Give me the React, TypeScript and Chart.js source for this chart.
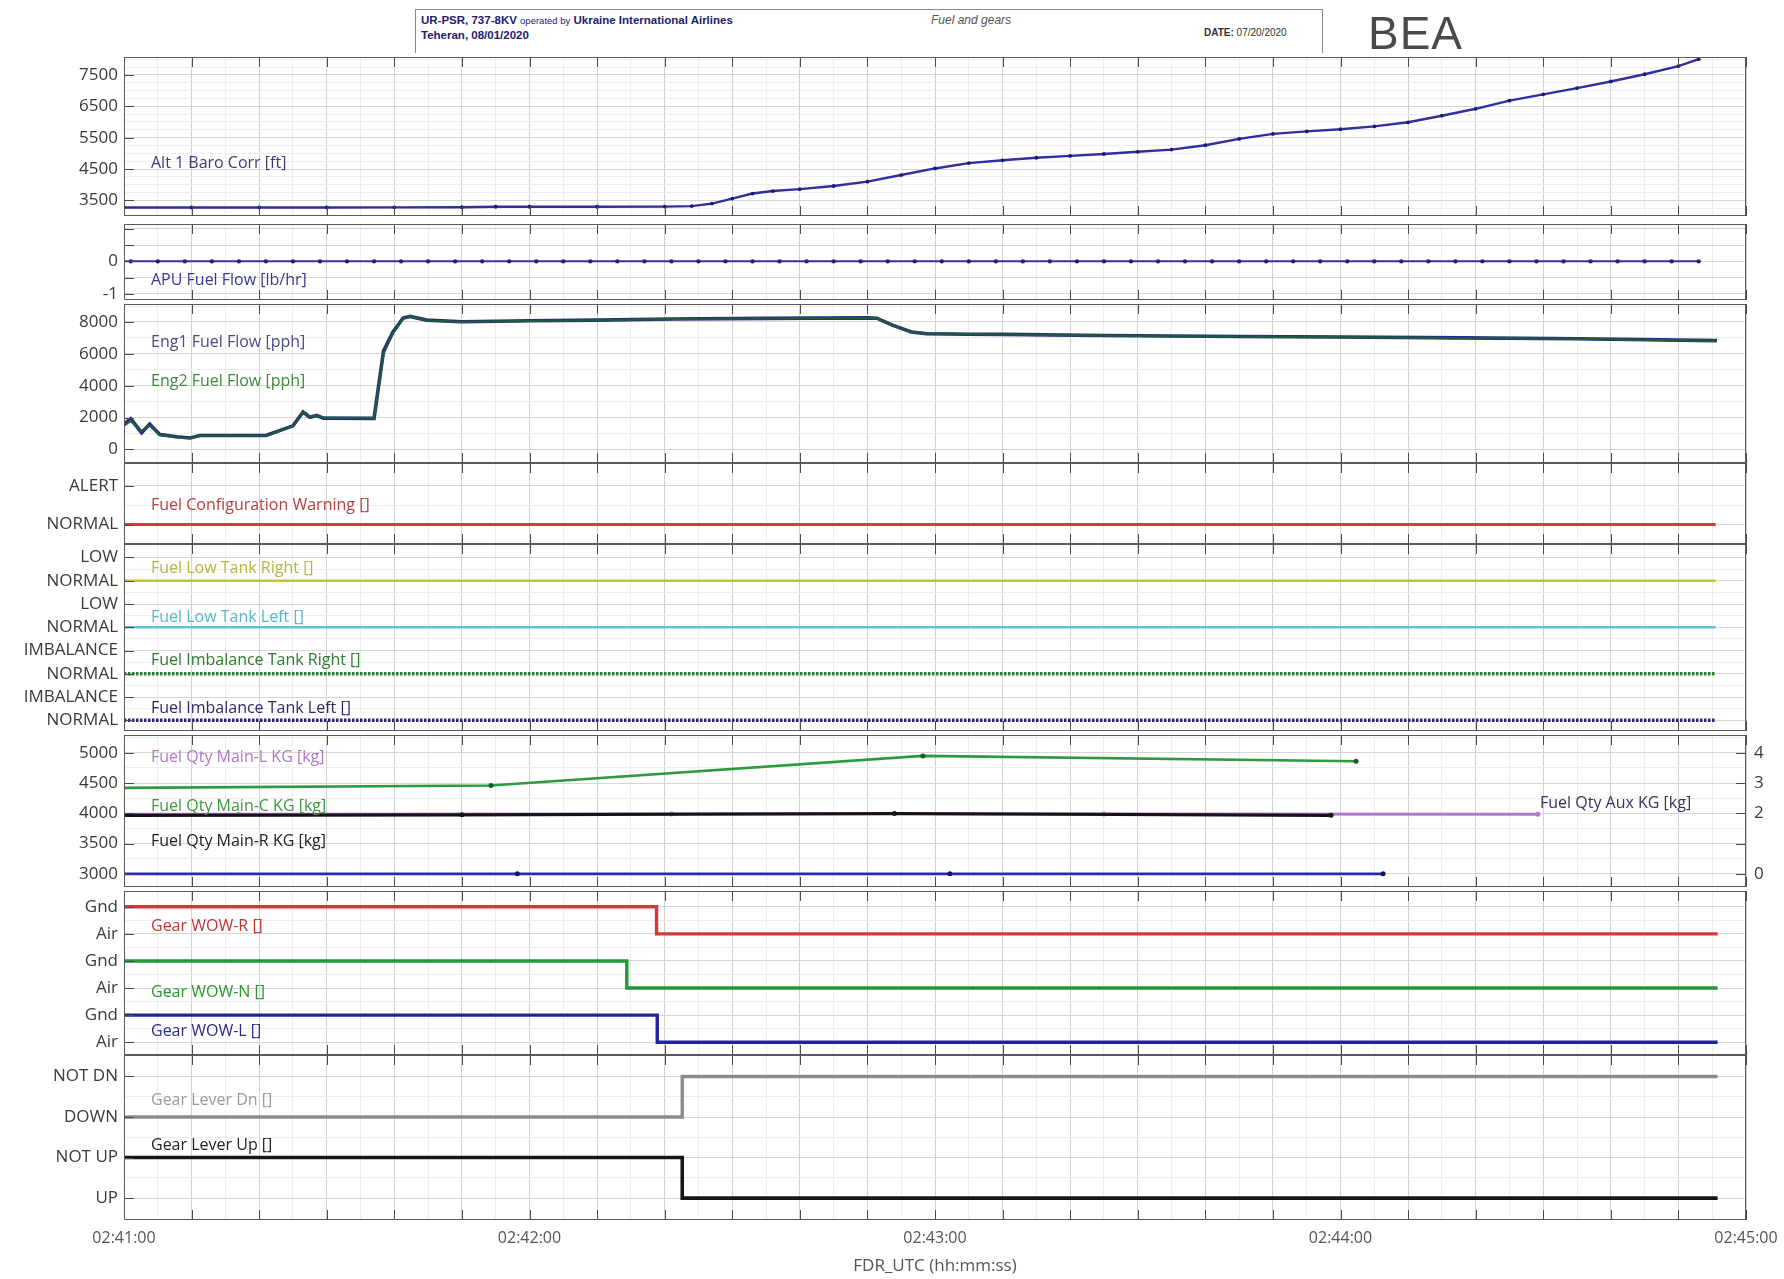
import React, { useEffect, useRef } from "react";
import { Chart, registerables } from "chart.js";

Chart.register(...registerables);

// ---------------- DATA (seconds after 02:41:00) ----------------
const TIME_LABELS = ["02:41:00", "02:42:00", "02:43:00", "02:44:00", "02:45:00"];
const TIME_LABEL_SECONDS = [0, 60, 120, 180, 240];

const ALT_T = [0, 10, 20, 30, 40, 50, 55, 60, 70, 80, 84, 87, 90, 93, 96, 100, 105, 110, 115, 120, 125, 130, 135, 140, 145, 150, 155, 160, 165, 170, 175, 180, 185, 190, 195, 200, 205, 210, 215, 220, 225, 230, 233];
const ALT_FT = [3275, 3275, 3275, 3278, 3280, 3285, 3300, 3300, 3300, 3305, 3320, 3400, 3560, 3720, 3800, 3860, 3960, 4100, 4310, 4520, 4690, 4780, 4860, 4920, 4980, 5050, 5120, 5260, 5460, 5620, 5700, 5770, 5860, 5990, 6200, 6420, 6680, 6880, 7080, 7290, 7520, 7780, 8000];

const APU_T = [-3, 1, 5, 9, 13, 17, 21, 25, 29, 33, 37, 41, 45, 49, 53, 57, 61, 65, 69, 73, 77, 81, 85, 89, 93, 97, 101, 105, 109, 113, 117, 121, 125, 129, 133, 137, 141, 145, 149, 153, 157, 161, 165, 169, 173, 177, 181, 185, 189, 193, 197, 201, 205, 209, 213, 217, 221, 225, 229, 233];
const APU_FLOW = [0, 0, 0, 0, 0, 0, 0, 0, 0, 0, 0, 0, 0, 0, 0, 0, 0, 0, 0, 0, 0, 0, 0, 0, 0, 0, 0, 0, 0, 0, 0, 0, 0, 0, 0, 0, 0, 0, 0, 0, 0, 0, 0, 0, 0, 0, 0, 0, 0, 0, 0, 0, 0, 0, 0, 0, 0, 0, 0, 0];

const ENG_T = [0, 1, 2.6, 3.8, 5.3, 7.8, 9.8, 11.2, 21, 25, 26.5, 27.5, 28.5, 29.5, 37, 38.4, 39.8, 41.3, 42.3, 44.8, 50, 60, 70, 81, 95, 110, 111.4, 113.7, 116.5, 118.8, 125, 130, 145, 165, 180, 198, 215, 235.7];
const ENG1_PPH = [1590, 1920, 1050, 1590, 940, 790, 720, 870, 870, 1480, 2350, 2020, 2130, 1960, 1950, 6180, 7380, 8250, 8350, 8120, 8020, 8080, 8120, 8190, 8230, 8260, 8240, 7800, 7370, 7260, 7230, 7220, 7150, 7090, 7060, 7000, 6950, 6830];
const ENG2_PPH = [1500, 1800, 1150, 1500, 900, 760, 700, 850, 860, 1450, 2300, 2060, 2100, 1990, 1970, 6000, 7300, 8200, 8330, 8100, 8000, 8070, 8110, 8180, 8220, 8250, 8230, 7820, 7390, 7280, 7240, 7210, 7140, 7080, 7050, 6990, 6940, 6820];

const DISCRETE_T = [0, 235.5];
const FUEL_CONFIG_STATE = ["NORMAL", "NORMAL"];
const LOW_TANK_R_STATE = ["NORMAL", "NORMAL"];
const LOW_TANK_L_STATE = ["NORMAL", "NORMAL"];
const IMBAL_R_STATE = ["NORMAL", "NORMAL"];
const IMBAL_L_STATE = ["NORMAL", "NORMAL"];

const QTY_C_T = [-9.7, 54.3, 118.2, 182.3];
const QTY_C_KG = [4415, 4460, 4950, 4860];
const QTY_R_T = [-14, 50, 114, 178.6];
const QTY_R_KG = [3965, 3976, 3998, 3967];
const QTY_L_T = [-47, 17, 81, 145, 209.2];
const QTY_L_KG = [3980, 3985, 3990, 3990, 3985];
const QTY_AUX_T = [-5.8, 58.2, 122.2, 186.3];
const QTY_AUX_KG = [0, 0, 0, 0];

const WOW_R_T = [0, 78.8, 235.8];
const WOW_R_STATE = ["Gnd", "Air", "Air"];
const WOW_N_T = [0, 74.4, 235.8];
const WOW_N_STATE = ["Gnd", "Air", "Air"];
const WOW_L_T = [0, 78.9, 235.8];
const WOW_L_STATE = ["Gnd", "Air", "Air"];

const LEVER_DN_T = [0, 82.6, 235.8];
const LEVER_DN_STATE = ["DOWN", "NOT DN", "NOT DN"];
const LEVER_UP_T = [0, 82.6, 235.8];
const LEVER_UP_STATE = ["NOT UP", "UP", "UP"];

// ---------------- LAYOUT / STYLE ----------------
const W = 1784;
const PLOT_L = 124;
const PLOT_R = 1746;
const AXIS_H = 59;
const FONT = "'Open Sans', sans-serif";

const pts = (T: number[], V: number[]) => T.map((t, i) => ({ x: t, y: V[i] }));
const ptsMap = (T: number[], S: string[], map: Record<string, number>) =>
  T.map((t, i) => ({ x: t, y: map[S[i]] }));

const ln = (data: any[], color: string, extra: any = {}) => ({
  data,
  borderColor: color,
  backgroundColor: color,
  borderWidth: 2,
  pointRadius: 0,
  pointBorderWidth: 0,
  tension: 0,
  fill: false,
  ...extra,
});

const range = (a: number, b: number, s: number) => {
  const r: number[] = [];
  for (let v = a; v <= b + 1e-9; v += s) r.push(Math.round(v * 1000) / 1000);
  return r;
};

type Spec = {
  top: number;
  bottom: number;
  min: number;
  max: number;
  grid: number[];
  labels: [number, string][];
  datasets: any[];
  right?: { min: number; max: number; labels: [number, string][]; marks: number[] };
  xAxis?: boolean;
};

const PANELS: Spec[] = [
  {
    top: 53, bottom: 220, min: 3005, max: 8070,
    grid: range(3250, 8000, 250),
    labels: [[3500, "3500"], [4500, "4500"], [5500, "5500"], [6500, "6500"], [7500, "7500"]],
    datasets: [ln(pts(ALT_T, ALT_FT), "#2f2f9e", { borderWidth: 2.4, pointRadius: 1.9, pointBackgroundColor: "#1b1b6e" })],
  },
  {
    top: 220, bottom: 304, min: -1.19, max: 1.15,
    grid: [-1, -0.5, 0, 0.5, 1],
    labels: [[-1, "-1"], [-0.5, ""], [0, "0"], [0.5, ""], [1, ""]],
    datasets: [ln(pts(APU_T, APU_FLOW), "#34349c", { borderWidth: 2, pointRadius: 2.2, pointBackgroundColor: "#222275" })],
  },
  {
    top: 304, bottom: 463, min: -854, max: 9130,
    grid: range(0, 9000, 1000),
    labels: [[0, "0"], [2000, "2000"], [4000, "4000"], [6000, "6000"], [8000, "8000"]],
    datasets: [
      ln(pts(ENG_T, ENG2_PPH), "#1f5a40", { borderWidth: 2.2 }),
      ln(pts(ENG_T, ENG1_PPH), "#2a2a7e", { borderWidth: 3.6 }),
    ],
  },
  {
    top: 463, bottom: 544, min: -0.5, max: 1.59,
    grid: [0, 0.5, 1],
    labels: [[0, "NORMAL"], [1, "ALERT"]],
    datasets: [ln(ptsMap(DISCRETE_T, FUEL_CONFIG_STATE, { NORMAL: 0, ALERT: 1 }), "#d23c3c", { borderWidth: 3 })],
  },
  {
    top: 544, bottom: 731, min: -0.46, max: 7.58,
    grid: range(0, 7, 0.5),
    labels: [[0, "NORMAL"], [1, "IMBALANCE"], [2, "NORMAL"], [3, "IMBALANCE"], [4, "NORMAL"], [5, "LOW"], [6, "NORMAL"], [7, "LOW"]],
    datasets: [
      ln(ptsMap(DISCRETE_T, LOW_TANK_R_STATE, { NORMAL: 6, LOW: 7 }), "#c4c43a", { borderWidth: 2.6 }),
      ln(ptsMap(DISCRETE_T, LOW_TANK_L_STATE, { NORMAL: 4, LOW: 5 }), "#5cc6d8", { borderWidth: 2.6 }),
      ln(ptsMap(DISCRETE_T, IMBAL_R_STATE, { NORMAL: 2, IMBALANCE: 3 }), "#2c7e34", { borderWidth: 3.5, borderDash: [2.5, 1.5] }),
      ln(ptsMap(DISCRETE_T, IMBAL_L_STATE, { NORMAL: 0, IMBALANCE: 1 }), "#26266e", { borderWidth: 3.5, borderDash: [2.5, 1.5] }),
    ],
  },
  {
    top: 731, bottom: 891, min: 2783, max: 5295,
    grid: range(3000, 5250, 250),
    labels: [[3000, "3000"], [3500, "3500"], [4000, "4000"], [4500, "4500"], [5000, "5000"]],
    right: { min: -0.434, max: 4.59, labels: [[0, "0"], [1, ""], [2, "2"], [3, "3"], [4, "4"]], marks: [0, 1, 2, 3, 4] },
    datasets: [
      ln(pts(QTY_C_T, QTY_C_KG), "#2f9a3c", { borderWidth: 2.6, pointRadius: 2.5, pointBackgroundColor: "#1c5a24" }),
      ln(pts(QTY_R_T, QTY_R_KG), "#151515", { borderWidth: 3.2, pointRadius: 2.5 }),
      ln(pts(QTY_L_T, QTY_L_KG), "#b277cf", { borderWidth: 3, pointRadius: 2.5 }),
      ln(pts(QTY_AUX_T, QTY_AUX_KG), "#2a2ab0", { borderWidth: 2.6, pointRadius: 2.5, pointBackgroundColor: "#161660", yAxisID: "y2" }),
    ],
  },
  {
    top: 891, bottom: 1055, min: -0.47, max: 5.58,
    grid: range(0, 5, 0.5),
    labels: [[0, "Air"], [1, "Gnd"], [2, "Air"], [3, "Gnd"], [4, "Air"], [5, "Gnd"]],
    datasets: [
      ln(ptsMap(WOW_R_T, WOW_R_STATE, { Gnd: 5, Air: 4 }), "#d03a3a", { borderWidth: 3.4, stepped: "before" }),
      ln(ptsMap(WOW_N_T, WOW_N_STATE, { Gnd: 3, Air: 2 }), "#23973a", { borderWidth: 3.4, stepped: "before" }),
      ln(ptsMap(WOW_L_T, WOW_L_STATE, { Gnd: 1, Air: 0 }), "#22229e", { borderWidth: 3.4, stepped: "before" }),
    ],
  },
  {
    top: 1055, bottom: 1220, min: -0.54, max: 3.53,
    grid: range(0, 3, 0.5),
    labels: [[0, "UP"], [1, "NOT UP"], [2, "DOWN"], [3, "NOT DN"]],
    xAxis: true,
    datasets: [
      ln(ptsMap(LEVER_UP_T, LEVER_UP_STATE, { UP: 0, "NOT UP": 1 }), "#161616", { borderWidth: 3.6, stepped: "before" }),
      ln(ptsMap(LEVER_DN_T, LEVER_DN_STATE, { DOWN: 2, "NOT DN": 3 }), "#8c8c8c", { borderWidth: 3.4, stepped: "before" }),
    ],
  },
];

const PANEL_LABELS: { text: string; x: number; y: number; color: string }[] = [
  { text: "Alt 1 Baro Corr [ft]", x: 151, y: 162, color: "#3b3b7c" },
  { text: "APU Fuel Flow [lb/hr]", x: 151, y: 279, color: "#3a3a8c" },
  { text: "Eng1 Fuel Flow [pph]", x: 151, y: 341, color: "#4a4a86" },
  { text: "Eng2 Fuel Flow [pph]", x: 151, y: 380, color: "#3c8a3c" },
  { text: "Fuel Configuration Warning []", x: 151, y: 504, color: "#b44040" },
  { text: "Fuel Low Tank Right []", x: 151, y: 567, color: "#b6b640" },
  { text: "Fuel Low Tank Left []", x: 151, y: 616, color: "#58b6cc" },
  { text: "Fuel Imbalance Tank Right []", x: 151, y: 659, color: "#2c7a2c" },
  { text: "Fuel Imbalance Tank Left []", x: 151, y: 707, color: "#2a2a6a" },
  { text: "Fuel Qty Main-L KG [kg]", x: 151, y: 756, color: "#b276c8" },
  { text: "Fuel Qty Main-C KG [kg]", x: 151, y: 805, color: "#3c983c" },
  { text: "Fuel Qty Main-R KG [kg]", x: 151, y: 840, color: "#222222" },
  { text: "Fuel Qty Aux KG [kg]", x: 1540, y: 802, color: "#34345e" },
  { text: "Gear WOW-R []", x: 151, y: 925, color: "#c03434" },
  { text: "Gear WOW-N []", x: 151, y: 991, color: "#2c962c" },
  { text: "Gear WOW-L []", x: 151, y: 1030, color: "#2a2a8a" },
  { text: "Gear Lever Dn []", x: 151, y: 1099, color: "#9a9a9a" },
  { text: "Gear Lever Up []", x: 151, y: 1144, color: "#222222" },
];

const X_GRID = range(0, 240, 5);
const X_MARKS = range(0, 240, 10);

const framePlugin = {
  id: "frame",
  afterDraw(chart: any) {
    const { ctx, chartArea: a, scales } = chart;
    const spec: Spec = chart.options.plugins.frame.spec;
    ctx.save();
    ctx.strokeStyle = "#4a4a4a";
    ctx.lineWidth = 1;
    ctx.beginPath();
    for (const v of X_MARKS) {
      const px = Math.round(scales.x.getPixelForValue(v)) + 0.5;
      ctx.moveTo(px, a.top);
      ctx.lineTo(px, a.top + 10);
      ctx.moveTo(px, a.bottom);
      ctx.lineTo(px, a.bottom - 10);
    }
    for (const [v] of spec.labels) {
      const py = Math.round(scales.y.getPixelForValue(v)) + 0.5;
      ctx.moveTo(a.left, py);
      ctx.lineTo(a.left + 10, py);
    }
    if (spec.right && scales.y2) {
      for (const v of spec.right.marks) {
        const py = Math.round(scales.y2.getPixelForValue(v)) + 0.5;
        ctx.moveTo(a.right, py);
        ctx.lineTo(a.right - 10, py);
      }
    }
    ctx.stroke();
    ctx.lineWidth = 1;
    ctx.strokeStyle = "#5a5a5a";
    ctx.strokeRect(a.left + 0.5, a.top + 0.5, a.right - a.left - 1, a.bottom - a.top - 1);
    ctx.restore();
  },
};

function buildConfig(spec: Spec): any {
  const labelMap = new Map<number, string>(spec.labels);
  const tickFont = { family: FONT, size: 17 };
  const scales: any = {
    x: {
      type: "linear",
      min: 0,
      max: 240,
      afterBuildTicks: (s: any) => {
        s.ticks = X_GRID.map((v) => ({ value: v }));
      },
      afterFit: (s: any) => {
        s.height = spec.xAxis ? AXIS_H : 0;
        s.paddingLeft = 0;
        s.paddingRight = 0;
      },
      ticks: {
        display: !!spec.xAxis,
        autoSkip: false,
        maxRotation: 0,
        padding: 9,
        color: "#555",
        font: { family: FONT, size: 16 },
        callback: (v: number) => {
          const i = TIME_LABEL_SECONDS.indexOf(v);
          return i >= 0 ? TIME_LABELS[i] : "";
        },
      },
      title: {
        display: !!spec.xAxis,
        text: "FDR_UTC (hh:mm:ss)",
        color: "#555",
        font: { family: FONT, size: 17 },
        padding: { top: 0, bottom: 3 },
      },
      grid: {
        drawTicks: false,
        color: (c: any) => (c.tick && c.tick.value % 10 === 0 ? "#d2d2d2" : "#eeeeee"),
        lineWidth: 1,
      },
      border: { display: false },
    },
    y: {
      type: "linear",
      position: "left",
      min: spec.min,
      max: spec.max,
      afterBuildTicks: (s: any) => {
        s.ticks = spec.grid.map((v) => ({ value: v }));
      },
      afterFit: (s: any) => {
        s.width = PLOT_L;
        s.paddingTop = 0;
        s.paddingBottom = 0;
      },
      ticks: {
        autoSkip: false,
        padding: 6,
        color: "#3a3a3a",
        font: tickFont,
        callback: (v: number) => labelMap.get(v) ?? "",
      },
      grid: {
        drawTicks: false,
        color: (c: any) => (c.tick && labelMap.has(c.tick.value) ? "#d6d6d6" : "#ededed"),
      },
      border: { display: false },
    },
  };
  if (spec.right) {
    const r = spec.right;
    const rMap = new Map<number, string>(r.labels);
    scales.y2 = {
      type: "linear",
      position: "right",
      min: r.min,
      max: r.max,
      afterBuildTicks: (s: any) => {
        s.ticks = r.marks.map((v) => ({ value: v }));
      },
      afterFit: (s: any) => {
        s.width = W - PLOT_R;
        s.paddingTop = 0;
        s.paddingBottom = 0;
      },
      ticks: {
        autoSkip: false,
        padding: 8,
        color: "#3a3a3a",
        font: tickFont,
        callback: (v: number) => rMap.get(v) ?? "",
      },
      grid: { drawTicks: false, drawOnChartArea: false },
      border: { display: false },
    };
  }
  return {
    type: "line",
    data: { datasets: spec.datasets },
    options: {
      responsive: false,
      animation: false,
      devicePixelRatio: 1,
      parsing: true,
      layout: { padding: { left: 0, top: 0, bottom: 0, right: spec.right ? 0 : W - PLOT_R } },
      plugins: { legend: { display: false }, tooltip: { enabled: false }, frame: { spec } },
      scales,
    },
    plugins: [framePlugin],
  };
}

function PanelChart({ spec }: { spec: Spec }) {
  const ref = useRef<HTMLCanvasElement>(null);
  const height = spec.bottom - spec.top + (spec.xAxis ? AXIS_H : 0);
  useEffect(() => {
    const chart = new Chart(ref.current as HTMLCanvasElement, buildConfig(spec));
    return () => chart.destroy();
  }, [spec]);
  return (
    <canvas
      ref={ref}
      width={W}
      height={height}
      style={{ position: "absolute", left: 0, top: spec.top, width: W, height, display: "block" }}
    />
  );
}

function Header() {
  const navy = "#1c1c6e";
  return (
    <>
      <div
        style={{
          position: "absolute", left: 415, top: 9, width: 908, height: 44,
          borderTop: "1px solid #8a8a8a", borderLeft: "1px solid #8a8a8a", borderRight: "1px solid #8a8a8a",
          boxSizing: "border-box",
        }}
      />
      <div style={{ position: "absolute", left: 421, top: 13, fontFamily: "'Liberation Sans', Arial, sans-serif", fontSize: 11.5, color: navy, whiteSpace: "nowrap", lineHeight: "15px" }}>
        <b>UR-PSR, 737-8KV</b> <span style={{ fontSize: 9.5 }}>operated by</span> <b>Ukraine International Airlines</b>
        <br />
        <b>Teheran, 08/01/2020</b>
      </div>
      <div style={{ position: "absolute", left: 931, top: 13, fontFamily: "'Liberation Sans', Arial, sans-serif", fontSize: 12, fontStyle: "italic", color: "#555", whiteSpace: "nowrap" }}>
        Fuel and gears
      </div>
      <div style={{ position: "absolute", left: 1204, top: 27, fontFamily: "'Liberation Sans', Arial, sans-serif", fontSize: 10, color: "#333", whiteSpace: "nowrap" }}>
        <b>DATE:</b> 07/20/2020
      </div>
      <div style={{ position: "absolute", left: 1368, top: 7, fontFamily: "'Liberation Sans', Arial, sans-serif", fontSize: 46, color: "#4a4a4a", letterSpacing: 1, whiteSpace: "nowrap", lineHeight: "52px" }}>
        BEA
      </div>
    </>
  );
}

export default function App() {
  return (
    <div style={{ position: "absolute", left: 0, top: 0, width: 1784, height: 1279, background: "#fff", overflow: "hidden" }}>
      {PANELS.map((p, i) => (
        <PanelChart key={i} spec={p} />
      ))}
      <Header />
      {PANEL_LABELS.map((l, i) => (
        <div
          key={i}
          style={{
            position: "absolute", left: l.x, top: l.y - 11, lineHeight: "22px",
            fontFamily: FONT, fontSize: 16, color: l.color, whiteSpace: "nowrap",
          }}
        >
          {l.text}
        </div>
      ))}
    </div>
  );
}
